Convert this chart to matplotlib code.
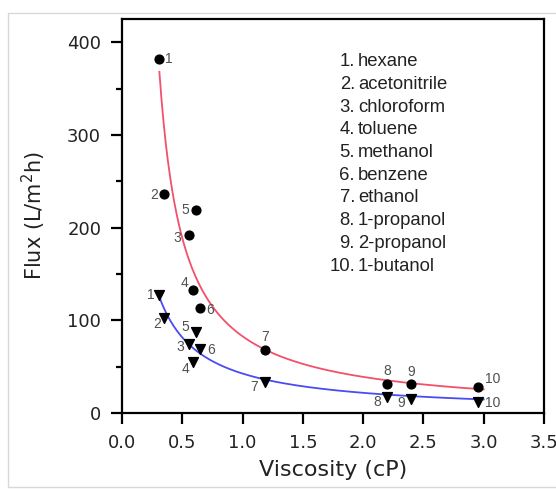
import numpy as np
import matplotlib
matplotlib.use("Agg")
import matplotlib.pyplot as plt
from matplotlib.patches import Rectangle

# solvents (numbered like the legend)
solvents = ["hexane", "acetonitrile", "chloroform", "toluene", "methanol",
            "benzene", "ethanol", "1-propanol", "2-propanol", "1-butanol"]
visc = [0.31, 0.35, 0.555, 0.59, 0.61, 0.65, 1.19, 2.2, 2.4, 2.95]
flux_circle = [382, 236, 192, 133, 219, 113, 68, 31, 31, 28]
flux_tri = [127, 102, 74, 55, 87, 69, 33, 17, 15, 12]

# fitted curves y = A / (x - x0), parameters
fit_red = (73.6, 0.11)
fit_blue = (44.5, -0.046)

# label offsets in pixels (dx, dy), dy positive = up
off_circle = [(9, 0), (-10, -1), (-12, -3), (-9, 7), (-10, 0), (10, -2),
              (0, 13), (0, 13), (0, 12), (15, 8)]
off_tri = [(-9, 0), (-7, -6), (-9, -3), (-8, -7), (-10, 5), (11, -1),
           (-11, -5), (-10, -5), (-10, -4), (15, -1)]

fig = plt.figure(figsize=(5.56, 4.90), dpi=100)
fig.patches.append(Rectangle((8 / 556, 3 / 490), 560 / 556, 474 / 490,
                             transform=fig.transFigure, fill=False,
                             edgecolor="#d8d8d8", linewidth=1))
ax = fig.add_axes([122 / 556, 77 / 490, 422 / 556, 394 / 490])

xs = np.linspace(0.31, 3.0, 300)
ax.plot(xs, fit_red[0] / (xs - fit_red[1]), color="#f2506b", lw=1.3, zorder=2)
ax.plot(xs, fit_blue[0] / (xs - fit_blue[1]), color="#4b4bf5", lw=1.3, zorder=2)

ax.scatter(visc, flux_circle, s=40, marker="o", color="black", zorder=3)
ax.scatter(visc, flux_tri, s=50, marker="v", color="black", zorder=3)

for i in range(len(visc)):
    ax.annotate(str(i + 1), (visc[i], flux_circle[i]), xytext=off_circle[i],
                textcoords="offset pixels", ha="center", va="center",
                fontsize=10, color="#505050", family="Liberation Sans")
    ax.annotate(str(i + 1), (visc[i], flux_tri[i]), xytext=off_tri[i],
                textcoords="offset pixels", ha="center", va="center",
                fontsize=10, color="#505050", family="Liberation Sans")

# numbered legend
for i, name in enumerate(solvents):
    yy = 0.892 - i * 0.0577
    ax.text(0.552, yy, "%d." % (i + 1), transform=ax.transAxes, ha="right",
            va="center", fontsize=13.3, color="#222222", family="Liberation Sans")
    ax.text(0.559, yy, name, transform=ax.transAxes, ha="left",
            va="center", fontsize=13.3, color="#222222", family="Liberation Sans")

ax.set_xlim(0, 3.5)
ax.set_ylim(0, 425)
ax.set_xticks(np.arange(0, 3.51, 0.5))
ax.set_xticklabels(["%.1f" % v for v in np.arange(0, 3.51, 0.5)])
ax.set_yticks([0, 100, 200, 300, 400])
ax.set_yticks([50, 150, 250, 350], minor=True)

for s in ax.spines.values():
    s.set_linewidth(1.6)
ax.tick_params(which="major", direction="out", length=8, width=1.6,
               labelsize=13, pad=7)
ax.tick_params(which="minor", direction="out", length=4.5, width=1.6)
ax.tick_params(top=False, right=False)
for lab in ax.get_xticklabels() + ax.get_yticklabels():
    lab.set_family("DejaVu Sans")
    lab.set_color("#222222")

ax.set_xlabel("Viscosity (cP)", fontsize=16, family="DejaVu Sans",
              color="#222222", labelpad=6)
ax.set_ylabel("Flux (L/m$^2$h)", fontsize=15, family="DejaVu Sans",
              color="#222222", labelpad=14)

fig.savefig("out.png", dpi=100)
